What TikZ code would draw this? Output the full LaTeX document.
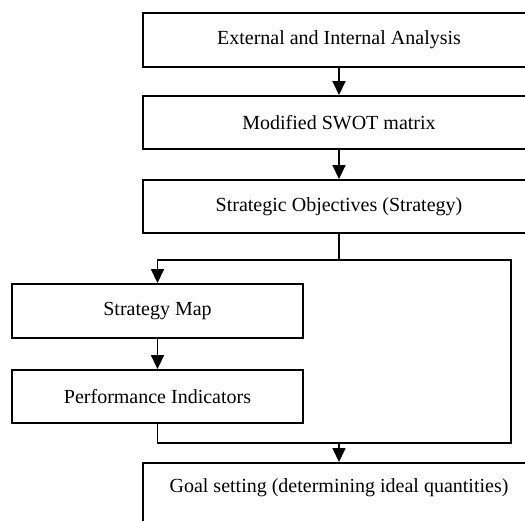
\documentclass[tikz,border=0pt]{standalone}
\usepackage{fontspec}
\setmainfont{Liberation Serif}
\usetikzlibrary{arrows.meta}
\begin{document}
\begin{tikzpicture}[x=1pt,y=-1pt,
  box/.style={draw, line width=1.9pt, rectangle, inner sep=0pt,
    font=\fontsize{20}{24}\selectfont, minimum width=392pt},
  smallbox/.style={box, minimum width=291pt},
  link/.style={line width=1.7pt},
  flow/.style={link, -{Triangle[length=14pt,width=13pt]}}]
  \useasboundingbox (0,0) rectangle (525,520);
  \clip (0,0) rectangle (525,520);
  \fill[white] (0,0) rectangle (525,520);

  % main column
  \node[box, minimum height=54pt] (ana)  at (339,40)    {External and Internal Analysis};
  \node[box, minimum height=53pt] (swot) at (339,122.5) {Modified SWOT matrix};
  \node[box, minimum height=53pt] (obj)  at (339,206.5) {Strategic Objectives (Strategy)};

  % side branch
  \node[smallbox, minimum height=54pt] (map) at (157.5,311)   {Strategy Map};
  \node[smallbox, minimum height=53pt] (kpi) at (157.5,396.5) {Performance Indicators};

  % final box, open towards the bottom
  \node[box, anchor=north, inner ysep=10pt, text height=19.6pt, text depth=50pt]
    (goal) at (339,462) {Goal setting (determining ideal quantities)};

  % routing points
  \coordinate (split) at (339,260);
  \coordinate (rtop)  at (511,260);
  \coordinate (rbot)  at (511,443);

  \draw[flow] (ana) -- (swot);
  \draw[flow] (swot) -- (obj);
  \draw[flow] (obj.south) -- (split) -| (map.north);
  \draw[link] (split) -- (rtop) -- (rbot) -| (kpi.south);
  \draw[flow] (map) -- (kpi);
  \draw[flow] (goal.north |- rbot) -- (goal.north);
\end{tikzpicture}
\end{document}
